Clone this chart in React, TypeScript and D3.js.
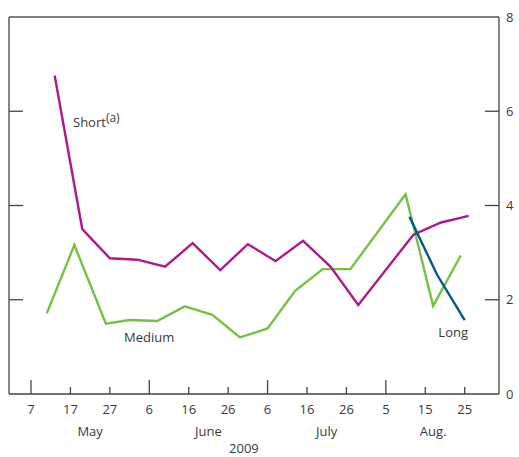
import React from "react";
import * as d3 from "d3";

const shortDates = ["2009-05-13","2009-05-20","2009-05-27","2009-06-03","2009-06-10","2009-06-17","2009-06-24","2009-07-01","2009-07-08","2009-07-15","2009-07-22","2009-07-29","2009-08-12","2009-08-19","2009-08-26"];
const shortValues = [6.76,3.5,2.88,2.85,2.7,3.2,2.63,3.18,2.82,3.25,2.7,1.89,3.38,3.64,3.78];

const mediumDates = ["2009-05-11","2009-05-18","2009-05-26","2009-06-01","2009-06-08","2009-06-15","2009-06-22","2009-06-29","2009-07-06","2009-07-13","2009-07-20","2009-07-27","2009-08-10","2009-08-17","2009-08-24"];
const mediumValues = [1.71,3.16,1.49,1.57,1.55,1.86,1.68,1.2,1.39,2.19,2.65,2.65,4.24,1.87,2.94];

const longDates = ["2009-08-11","2009-08-18","2009-08-25"];
const longValues = [3.76,2.53,1.57];

const xTickDates = ["2009-05-07","2009-05-17","2009-05-27","2009-06-06","2009-06-16","2009-06-26","2009-07-06","2009-07-16","2009-07-26","2009-08-05","2009-08-15","2009-08-25"];
const xTickLabels = ["7","17","27","6","16","26","6","16","26","5","15","25"];
const majorTickDates = ["2009-05-07","2009-06-06","2009-07-06","2009-08-05"];
const monthLabels = ["May","June","July","Aug."];
const monthLabelDates = ["2009-05-22","2009-06-21","2009-07-21","2009-08-17"];
const yearLabel = "2009";
const yearLabelDate = "2009-06-30";
const yTicks = [0,2,4,6,8];

const W = 519, H = 457;
const L = 9, R = 499, T = 17, B = 394;
const FONT = "'Open Sans', sans-serif";
const TXT = "#3a3a3a";
const AX = "#444";

const pd = (s: string) => new Date(s + "T00:00:00Z");

export default function App() {
  const x = d3.scaleUtc().domain([pd("2009-05-07"), pd("2009-08-25")]).range([31, 464.7]);
  const y = d3.scaleLinear().domain([0, 8]).range([B, T]);
  const line = d3.line<[Date, number]>().x(d => x(d[0])).y(d => y(d[1]));
  const mk = (ds: string[], vs: number[]) => line(ds.map((d, i) => [pd(d), vs[i]] as [Date, number])) || "";
  const majors = new Set(majorTickDates);

  return (
    <svg width={W} height={H} style={{ position: "absolute", left: 0, top: 0, display: "block" }} fontFamily={FONT}>
      <rect x={0} y={0} width={W} height={H} fill="#fff" />
      <line x1={L} y1={T} x2={R} y2={T} stroke="#555" strokeWidth={1.5} />
      <line x1={L} y1={T} x2={L} y2={B} stroke={AX} strokeWidth={1.3} />
      <line x1={R} y1={T} x2={R} y2={B} stroke={AX} strokeWidth={1.3} />
      <line x1={L} y1={B} x2={R} y2={B} stroke={AX} strokeWidth={1.3} />
      {yTicks.map(t => (
        <g key={"y" + t}>
          {t > 0 && t < 8 && (
            <>
              <line x1={L} x2={L + 14} y1={y(t)} y2={y(t)} stroke={AX} strokeWidth={1.3} />
              <line x1={R - 14} x2={R} y1={y(t)} y2={y(t)} stroke={AX} strokeWidth={1.3} />
            </>
          )}
          <text x={506} y={y(t)} dy="0.36em" fontSize={13} fill={TXT}>{t}</text>
        </g>
      ))}
      {xTickDates.map((d, i) => {
        const xx = x(pd(d));
        const len = majors.has(d) ? 14 : 7;
        return (
          <g key={"x" + d}>
            <line x1={xx} x2={xx} y1={B} y2={B - len} stroke={AX} strokeWidth={1.3} />
            <text x={xx} y={414} textAnchor="middle" fontSize={13} fill={TXT}>{xTickLabels[i]}</text>
          </g>
        );
      })}
      {monthLabels.map((m, i) => (
        <text key={m} x={x(pd(monthLabelDates[i]))} y={436} textAnchor="middle" fontSize={13} fill={TXT}>{m}</text>
      ))}
      <text x={x(pd(yearLabelDate))} y={453} textAnchor="middle" fontSize={13} fill={TXT}>{yearLabel}</text>

      <path d={mk(mediumDates, mediumValues)} fill="none" stroke="#78C043" strokeWidth={2.4} strokeLinejoin="miter" />
      <path d={mk(shortDates, shortValues)} fill="none" stroke="#AC1A8C" strokeWidth={2.4} strokeLinejoin="miter" />
      <path d={mk(longDates, longValues)} fill="none" stroke="#005A8E" strokeWidth={2.4} strokeLinejoin="miter" />

      <text x={73} y={127} fontSize={13} fill={TXT}>Short<tspan fontSize={12} dy={-5}>(a)</tspan></text>
      <text x={124} y={342} fontSize={13} fill={TXT}>Medium</text>
      <text x={468} y={337} textAnchor="end" fontSize={13} fill={TXT}>Long</text>
    </svg>
  );
}
